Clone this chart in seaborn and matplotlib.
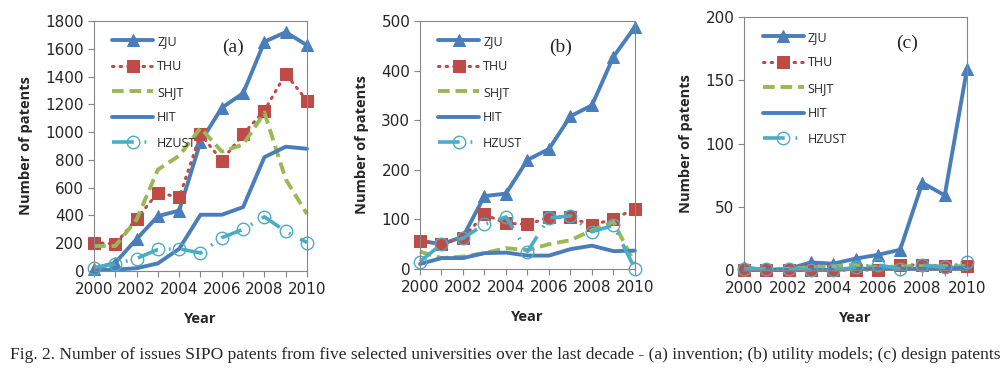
import matplotlib
matplotlib.use("Agg")
import matplotlib.pyplot as plt
import seaborn as sns
import numpy as np

years = [2000, 2001, 2002, 2003, 2004, 2005, 2006, 2007, 2008, 2009, 2010]
series_names = ["ZJU", "THU", "SHJT", "HIT", "HZUST"]

inv_zju = [15, 60, 230, 395, 435, 930, 1175, 1280, 1650, 1720, 1625]
inv_thu = [205, 195, 375, 565, 530, 985, 795, 985, 1155, 1420, 1225]
inv_shjt = [180, 180, 370, 730, 830, 1030, 860, 910, 1140, 660, 410]
inv_hit = [5, 10, 20, 55, 160, 405, 405, 460, 820, 895, 880]
inv_hzust = [25, 50, 90, 155, 160, 130, 240, 300, 390, 285, 205]

util_zju = [57, 50, 65, 147, 152, 220, 242, 308, 330, 428, 488]
util_thu = [57, 50, 63, 110, 92, 90, 104, 104, 88, 101, 121]
util_shjt = [35, 22, 25, 32, 42, 38, 50, 58, 78, 95, 10]
util_hit = [10, 22, 22, 32, 33, 27, 27, 40, 47, 36, 37]
util_hzust = [15, 50, 62, 90, 105, 35, 103, 107, 75, 88, 0]

des_zju = [2, 0, 1, 6, 5, 9, 12, 16, 69, 59, 159]
des_thu = [0, 0, 0, 0, 0, 0, 0, 4, 4, 3, 3]
des_shjt = [0, 0, 1, 2, 3, 4, 2, 3, 3, 3, 3]
des_hit = [0, 0, 0, 0, 0, 1, 1, 1, 1, 1, 2]
des_hzust = [1, 1, 1, 0, 0, 2, 4, 1, 4, 2, 6]

panels = [
    ("(a)", [inv_zju, inv_thu, inv_shjt, inv_hit, inv_hzust], 1800, 200),
    ("(b)", [util_zju, util_thu, util_shjt, util_hit, util_hzust], 500, 100),
    ("(c)", [des_zju, des_thu, des_shjt, des_hit, des_hzust], 200, 50),
]

styles = {
    "ZJU": dict(color="#4A7EBB", lw=2.8, ls="-", marker="^", ms=8.5, mfc="#4A7EBB", mec="#4A7EBB"),
    "THU": dict(color="#BE4B48", lw=2.2, ls=(0, (0.5, 2.0)), marker="s", ms=8, mfc="#BE4B48", mec="#BE4B48",
                dash_capstyle="round"),
    "SHJT": dict(color="#98B954", lw=2.8, ls=(0, (3, 1.5)), marker=None),
    "HIT": dict(color="#4A7EBB", lw=2.8, ls="-", marker=None),
    "HZUST": dict(color="#4BACC6", lw=2.6, ls=(0, (6, 3, 0.5, 3)), marker="o", ms=9, mfc="none", mec="#4BACC6",
                  mew=1.0),
}

sns.set_style("white")
plt.rcParams["font.family"] = ["Open Sans", "DejaVu Sans"]

fig = plt.figure(figsize=(10.05, 3.81), dpi=100)
positions = [
    [0.0935, 0.2887, 0.2120, 0.6562],
    [0.4179, 0.2940, 0.2139, 0.6509],
    [0.7403, 0.2913, 0.2219, 0.6640],
]
label_x = [0.60, 0.60, 0.68]

for (label, data, ymax, ystep), pos, lx in zip(panels, positions, label_x):
    ax = fig.add_axes(pos)
    for name, vals in zip(series_names, data):
        st = dict(styles[name])
        color = st.pop("color")
        lw = st.pop("lw")
        ls = st.pop("ls")
        marker = st.pop("marker")
        kws = {}
        if marker is not None:
            kws = dict(marker=marker, markersize=st.pop("ms"), markerfacecolor=st.pop("mfc"),
                       markeredgecolor=st.pop("mec"))
            if "mew" in st:
                kws["markeredgewidth"] = st.pop("mew")
        kws.update(st)
        sns.lineplot(x=years, y=vals, ax=ax, color=color, linewidth=lw, linestyle=ls,
                     label=name, clip_on=False, **kws)
    ax.set_xlim(2000, 2010)
    ax.set_ylim(0, ymax)
    ax.set_xticks(years)
    ax.set_xticklabels([str(y) if y % 2 == 0 else "" for y in years],
                       family=["DejaVu Sans"], fontsize=11)
    ax.set_yticks(np.arange(0, ymax + 1, ystep))
    ax.set_yticklabels([str(v) for v in np.arange(0, ymax + 1, ystep)],
                       family=["DejaVu Sans"], fontsize=11)
    ax.tick_params(axis="x", direction="out", length=4, width=0.8, color="#868686", pad=4)
    ax.tick_params(axis="y", direction="out", length=4, width=0.8, color="#868686", pad=3)
    ax.tick_params(axis="both", bottom=True, left=True)
    for sp in ax.spines.values():
        sp.set_color("#868686")
        sp.set_linewidth(0.8)
    ax.set_xlabel("Year", fontsize=10.5, fontweight="bold", labelpad=11)
    ax.set_ylabel("Number of patents", fontsize=10.5, fontweight="bold", labelpad=9)
    ax.legend(loc="upper left", bbox_to_anchor=(0.05, 0.975), frameon=False, fontsize=9,
              handlelength=3.3, labelspacing=1.0, handletextpad=0.3, borderaxespad=0.2)
    ax.text(lx, 0.895, label, transform=ax.transAxes, fontsize=14,
            family=["Liberation Serif", "DejaVu Serif"], ha="left", va="center")

fig.text(0.503, 0.068, "Fig. 2. Number of issues SIPO patents from five selected universities over the last decade - "
         "(a) invention; (b) utility models; (c) design patents",
         ha="center", va="center", fontsize=12.5, family=["Liberation Serif", "DejaVu Serif"])

fig.savefig("out.png", dpi=100)
